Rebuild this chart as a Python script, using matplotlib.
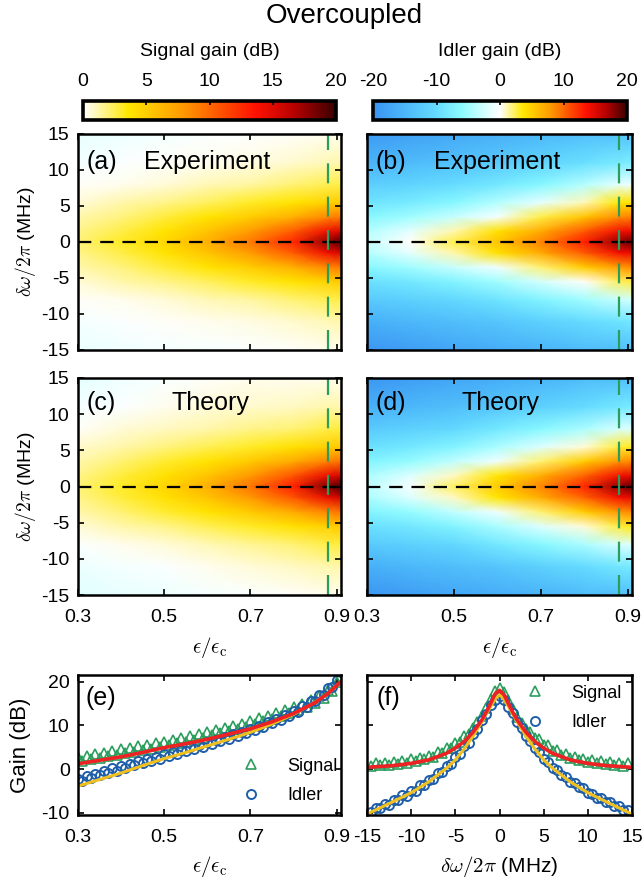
import numpy as np
import matplotlib
matplotlib.use('Agg')
import matplotlib.pyplot as plt
from matplotlib.colors import LinearSegmentedColormap, Normalize
from matplotlib.cm import ScalarMappable

plt.rcParams['font.family'] = ['Liberation Sans', 'DejaVu Sans']
plt.rcParams['mathtext.fontset'] = 'cm'
plt.rcParams['axes.unicode_minus'] = False

# ---------------- data ----------------
eps_grid = [0.30, 0.40, 0.50, 0.60, 0.70, 0.80, 0.88, 0.91]
dw_grid = [-15, -11, -8, -5.5, -3.5, -1.5, 0, 1.5, 3.5, 5.5, 8, 11, 15]

# rows follow dw_grid (bottom -> top), columns follow eps_grid
signal_exp = [
    [-1.2, -0.9, -0.6, -0.4, -0.2, 0.0, 0.2, 0.2],
    [-0.5, -0.3, 0.0, 0.2, 0.4, 0.7, 1.0, 1.1],
    [0.0, 0.3, 0.6, 1.0, 1.4, 1.9, 2.4, 2.6],
    [0.6, 1.1, 1.7, 2.3, 3.0, 3.9, 4.8, 5.1],
    [1.1, 1.8, 2.8, 3.8, 5.1, 6.7, 8.6, 9.2],
    [1.6, 2.6, 3.9, 5.5, 7.8, 10.6, 14.2, 15.2],
    [1.9, 3.0, 4.5, 6.6, 9.3, 12.8, 17.8, 19.5],
    [1.6, 2.6, 3.9, 5.5, 7.8, 10.6, 14.2, 15.2],
    [1.1, 1.8, 2.8, 3.8, 5.1, 6.7, 8.6, 9.2],
    [0.6, 1.1, 1.7, 2.3, 3.0, 3.9, 4.8, 5.1],
    [0.0, 0.3, 0.6, 1.0, 1.4, 1.9, 2.4, 2.6],
    [-0.5, -0.3, 0.0, 0.2, 0.4, 0.7, 1.0, 1.1],
    [-1.3, -1.0, -0.6, -0.3, -0.1, 0.1, 0.3, 0.3],
]
idler_exp = [
    [-19.5, -18.5, -17.5, -16.5, -15.5, -14.5, -14.0, -14.0],
    [-16.0, -15.0, -14.0, -13.0, -11.5, -10.0, -9.0, -8.5],
    [-12.5, -11.5, -10.5, -9.0, -7.0, -5.0, -3.0, -2.5],
    [-9.5, -8.5, -7.0, -5.0, -2.5, 0.0, 2.2, 2.6],
    [-6.5, -5.0, -3.0, -0.8, 2.0, 5.0, 7.8, 8.3],
    [-4.0, -1.5, 1.2, 4.0, 7.0, 10.5, 14.0, 14.5],
    [-3.0, 0.0, 2.5, 5.5, 8.8, 13.0, 17.5, 19.0],
    [-4.0, -1.5, 1.2, 4.0, 7.0, 10.5, 14.0, 14.5],
    [-6.5, -5.0, -3.0, -0.5, 2.5, 5.5, 8.5, 9.0],
    [-9.0, -8.0, -6.5, -4.0, -1.5, 1.0, 3.5, 4.0],
    [-12.0, -11.0, -10.0, -8.5, -6.5, -4.0, -1.5, -1.0],
    [-15.5, -14.5, -13.5, -12.5, -11.0, -9.5, -8.0, -7.5],
    [-19.0, -18.0, -17.0, -16.0, -15.0, -14.0, -13.5, -13.5],
]
signal_th = [
    [-1.8, -1.4, -1.0, -0.6, -0.3, 0.0, 0.2, 0.3],
    [-1.0, -0.6, -0.2, 0.2, 0.5, 0.8, 1.1, 1.2],
    [-0.2, 0.2, 0.6, 1.0, 1.5, 2.0, 2.5, 2.7],
    [0.6, 1.1, 1.7, 2.4, 3.1, 4.0, 4.9, 5.2],
    [1.2, 1.9, 2.9, 3.9, 5.2, 6.9, 8.8, 9.4],
    [1.7, 2.7, 4.0, 5.6, 7.9, 10.8, 14.5, 15.5],
    [2.0, 3.1, 4.6, 6.7, 9.4, 13.0, 18.2, 19.8],
    [1.7, 2.7, 4.0, 5.6, 7.9, 10.8, 14.5, 15.5],
    [1.2, 1.9, 2.9, 3.9, 5.2, 6.9, 8.8, 9.4],
    [0.7, 1.2, 1.8, 2.4, 3.1, 4.0, 4.9, 5.2],
    [0.1, 0.5, 0.9, 1.2, 1.6, 2.0, 2.5, 2.7],
    [-0.6, -0.2, 0.2, 0.5, 0.7, 0.9, 1.1, 1.2],
    [-1.5, -0.9, -0.4, 0.0, 0.2, 0.3, 0.3, 0.3],
]
idler_th = [
    [-19.5, -18.5, -17.5, -16.5, -15.5, -14.5, -14.0, -14.0],
    [-16.0, -15.0, -14.0, -13.0, -11.5, -10.0, -8.5, -8.0],
    [-12.5, -11.5, -10.5, -8.5, -6.5, -4.5, -2.3, -2.0],
    [-9.5, -8.5, -7.0, -4.5, -2.0, 0.5, 2.8, 3.2],
    [-7.0, -5.5, -3.3, -0.8, 2.0, 5.0, 8.0, 8.5],
    [-4.5, -2.0, 0.8, 3.7, 6.8, 10.3, 14.0, 14.8],
    [-3.5, -0.5, 2.3, 5.3, 8.6, 12.8, 17.5, 19.2],
    [-4.5, -2.0, 0.8, 3.7, 6.8, 10.3, 14.0, 14.8],
    [-7.0, -5.5, -3.3, -0.8, 2.0, 5.0, 8.0, 8.5],
    [-9.5, -8.5, -7.0, -4.5, -2.0, 0.5, 2.8, 3.2],
    [-12.5, -11.5, -10.5, -8.5, -6.5, -4.5, -2.3, -2.0],
    [-16.0, -15.0, -14.0, -13.0, -11.5, -10.0, -8.5, -8.0],
    [-19.5, -18.5, -17.5, -16.5, -15.5, -14.5, -14.0, -14.0],
]

eps_cut = 0.88

# panel (e): gain at dw = 0 vs eps
eps_pts = [0.30, 0.31, 0.32, 0.33, 0.34, 0.35, 0.36, 0.37, 0.38, 0.39,
           0.40, 0.41, 0.42, 0.43, 0.44, 0.45, 0.46, 0.47, 0.48, 0.49,
           0.50, 0.51, 0.52, 0.53, 0.54, 0.55, 0.56, 0.57, 0.58, 0.59,
           0.60, 0.61, 0.62, 0.63, 0.64, 0.65, 0.66, 0.67, 0.68, 0.69,
           0.70, 0.71, 0.72, 0.73, 0.74, 0.75, 0.76, 0.77, 0.78, 0.79,
           0.80, 0.81, 0.82, 0.83, 0.84, 0.85, 0.86, 0.87, 0.88, 0.89, 0.90]
sig_e = [2.8, 1.9, 3.1, 2.2, 3.4, 2.6, 3.7, 2.9, 4.1, 3.3,
         4.5, 3.7, 4.8, 4.0, 5.2, 4.4, 5.6, 4.7, 5.9, 5.1,
         6.3, 5.5, 6.7, 5.9, 7.1, 6.3, 7.5, 6.7, 8.0, 7.2,
         8.5, 7.7, 8.9, 8.2, 9.4, 8.7, 9.9, 9.2, 10.4, 9.7,
         11.0, 10.3, 11.6, 10.9, 12.2, 11.5, 12.8, 12.1, 13.5, 12.8,
         14.2, 13.5, 14.9, 14.3, 15.7, 15.2, 16.7, 16.3, 18.0, 17.9, 20.0]
idl_e = [-2.25, -2.65, -1.65, -2.05, -1.05, -1.45, -0.45, -0.85, 0.15, -0.35,
         0.65, 0.25, 1.25, 0.85, 1.75, 1.35, 2.35, 1.85, 2.85, 2.35,
         3.35, 2.95, 3.85, 3.45, 4.45, 4.05, 4.95, 4.55, 5.55, 5.15,
         6.15, 5.75, 6.75, 6.35, 7.35, 6.95, 7.95, 7.55, 8.55, 8.15,
         9.15, 8.85, 9.95, 9.65, 10.75, 10.45, 11.55, 11.25, 12.35, 12.15,
         13.35, 13.15, 14.35, 14.15, 15.45, 15.45, 16.85, 16.95, 18.55, 18.75, 20.35]
eps_fit = [0.30, 0.35, 0.40, 0.45, 0.50, 0.55, 0.60, 0.65, 0.70, 0.75, 0.80, 0.85, 0.88, 0.91]
sig_fit_e = [1.2, 2.0, 2.8, 3.8, 4.9, 5.8, 6.8, 8.0, 9.2, 10.8, 12.7, 15.2, 17.3, 20.0]
idl_fit_e = [-3.9, -2.4, -0.9, 0.8, 2.4, 3.8, 5.3, 6.8, 8.4, 10.3, 12.5, 15.3, 17.3, 20.0]

# panel (f): gain vs detuning at eps = eps_cut
dw_pts = [-14.5, -14.0, -13.5, -13.0, -12.5, -12.0, -11.5, -11.0, -10.5, -10.0,
          -9.5, -9.0, -8.5, -8.0, -7.5, -7.0, -6.5, -6.0, -5.5, -5.0,
          -4.5, -4.0, -3.5, -3.0, -2.5, -2.0, -1.5, -1.0, -0.5, 0.0,
          0.5, 1.0, 1.5, 2.0, 2.5, 3.0, 3.5, 4.0, 4.5, 5.0,
          5.5, 6.0, 6.5, 7.0, 7.5, 8.0, 8.5, 9.0, 9.5, 10.0,
          10.5, 11.0, 11.5, 12.0, 12.5, 13.0, 13.5, 14.0, 14.5]
sig_f = [0.75, 1.4, 0.85, 1.5, 1.0, 1.7, 1.2, 1.9, 1.45, 2.2,
         1.8, 2.6, 2.2, 3.1, 2.8, 3.8, 3.7, 4.8, 4.8, 6.0,
         6.2, 7.6, 8.0, 9.4, 10.7, 12.2, 14.0, 16.0, 17.8, 18.5,
         17.6, 15.8, 13.8, 12.0, 10.5, 9.2, 8.5, 7.0, 6.8, 5.4,
         5.4, 4.2, 4.3, 3.2, 3.4, 2.5, 2.8, 2.0, 2.4, 1.6,
         2.05, 1.3, 1.8, 1.1, 1.6, 0.9, 1.45, 0.8, 1.35]
idl_f = [-9.9, -8.8, -9.0, -7.9, -8.1, -7.0, -7.1, -6.0, -6.1, -4.9,
         -4.9, -3.7, -3.7, -2.4, -2.3, -0.9, -0.7, 0.8, 1.2, 2.8,
         3.4, 5.3, 6.0, 8.0, 9.1, 11.2, 12.6, 14.6, 15.8, 16.8,
         15.9, 14.3, 12.9, 10.8, 9.5, 7.6, 6.5, 4.8, 3.9, 2.3,
         1.7, 0.3, -0.2, -1.4, -1.8, -2.9, -3.2, -4.2, -4.4, -5.4,
         -5.6, -6.5, -6.6, -7.5, -7.6, -8.4, -8.5, -9.3, -9.4]
dw_fit = [-15, -12, -10, -8, -6, -5, -4, -3, -2, -1.5, -1, -0.5, 0,
          0.5, 1, 1.5, 2, 3, 4, 5, 6, 8, 10, 12, 15]
sig_fit_f = [0.4, 0.8, 1.3, 2.1, 3.6, 4.8, 6.3, 8.4, 11.2, 13.0, 15.0, 17.2, 18.0,
             17.0, 15.0, 13.0, 11.2, 8.4, 6.3, 4.8, 3.6, 2.1, 1.3, 0.8, 0.4]
idl_fit_f = [-10.3, -7.4, -5.4, -2.9, 0.2, 2.1, 4.6, 7.5, 10.8, 12.6, 14.3, 16.0, 17.0,
             16.0, 14.3, 12.6, 10.8, 7.5, 4.6, 2.1, 0.2, -2.9, -5.4, -7.4, -10.3]

sig_ticks = [0, 5, 10, 15, 20]
idl_ticks = [-20, -10, 0, 10, 20]

# ---------------- styles ----------------
cmap = LinearSegmentedColormap.from_list('gain', [
    (0.000, '#3a94f2'),
    (0.125, '#4cb8fa'),
    (0.250, '#66dcff'),
    (0.350, '#8cfcff'),
    (0.450, '#dcffff'),
    (0.500, '#ffffff'),
    (0.590, '#ffe800'),
    (0.700, '#ff9800'),
    (0.840, '#ff1200'),
    (0.925, '#b00000'),
    (1.000, '#3c0000'),
])
sig_cmap = LinearSegmentedColormap.from_list('sig', cmap(np.linspace(0.5, 1.0, 256)))

GREEN = '#2b9d5c'
BLUE = '#1f5ea8'
RED = '#ee2222'
YELLOW = '#f0c020'
W, H = 644, 886
TICK = 14
PANEL = 18

fig = plt.figure(figsize=(W / 100, H / 100), dpi=100)


def box(l, t, r, b):
    return [l / W, 1 - b / H, (r - l) / W, (b - t) / H]


ax_a = fig.add_axes(box(78, 134, 341, 350))
ax_b = fig.add_axes(box(367, 134, 632, 350))
ax_c = fig.add_axes(box(78, 378, 341, 595))
ax_d = fig.add_axes(box(367, 378, 632, 595))
ax_e = fig.add_axes(box(78, 675, 341, 815))
ax_f = fig.add_axes(box(367, 675, 632, 815))
cax1 = fig.add_axes(box(83, 101, 336, 120))
cax2 = fig.add_axes(box(373, 101, 627, 120))


def style(ax):
    ax.tick_params(direction='in', top=True, right=True, length=4, width=1.2,
                   labelsize=TICK)
    ax.tick_params(axis='x', pad=10)
    ax.tick_params(axis='y', pad=6)
    for s in ax.spines.values():
        s.set_linewidth(1.8)


def place_xlabel(ax, y):
    ax.xaxis.set_label_coords(0.5, y)
    ax.xaxis.label.set_verticalalignment('center')


def place_ylabel(ax, x):
    ax.yaxis.set_label_coords(x, 0.5)
    ax.yaxis.label.set_verticalalignment('center')


E, D = np.meshgrid(eps_grid, dw_grid)
mlabel = r'$\delta\omega/2\pi$ (MHz)'
xlab = r'$\epsilon/\epsilon_{\mathrm{c}}$'

maps = [(ax_a, signal_exp, '(a)', 'Experiment', 0.251),
        (ax_b, idler_exp, '(b)', 'Experiment', 0.254),
        (ax_c, signal_th, '(c)', 'Theory', 0.356),
        (ax_d, idler_th, '(d)', 'Theory', 0.355)]
for ax, Z, lab, name, xn in maps:
    ax.pcolormesh(E, D, np.array(Z), shading='gouraud', cmap=cmap,
                  vmin=-20, vmax=20, rasterized=True)
    ax.axhline(0, color='black', lw=1.6, ls=(0, (6, 4)))
    ax.axvline(eps_cut, color=GREEN, lw=1.6, ls=(0, (9, 6)))
    ax.set_xlim(0.3, 0.91)
    ax.set_ylim(-15, 15)
    ax.set_xticks([0.3, 0.5, 0.7, 0.9])
    ax.set_yticks([-15, -10, -5, 0, 5, 10, 15])
    style(ax)
    ytxt = 0.872 if name == 'Experiment' else 0.883
    ax.text(0.033, ytxt, lab, transform=ax.transAxes, fontsize=PANEL,
            ha='left', va='center')
    ax.text(xn, ytxt, name, transform=ax.transAxes, fontsize=PANEL,
            ha='left', va='center')

for ax in (ax_a, ax_b):
    ax.tick_params(labelbottom=False)
for ax in (ax_b, ax_d):
    ax.tick_params(labelleft=False)
for ax in (ax_a, ax_c):
    ax.set_ylabel(mlabel, fontsize=14)
    place_ylabel(ax, -0.2)
for ax in (ax_c, ax_d):
    ax.set_xticklabels(['0.3', '0.5', '0.7', '0.9'])
    ax.set_xlabel(xlab, fontsize=15)
    place_xlabel(ax, -0.244)

# panel (e)
ax_e.plot(eps_pts, sig_e, ls='none', marker='^', ms=6.5, mfc='none', mec=GREEN,
          mew=1.2, label='Signal')
ax_e.plot(eps_pts, idl_e, ls='none', marker='o', ms=6.5, mfc='none', mec=BLUE,
          mew=1.4, label='Idler')
ax_e.plot(eps_fit, idl_fit_e, color=YELLOW, lw=2.2)
ax_e.plot(eps_fit, sig_fit_e, color=RED, lw=2.6)
ax_e.set_xlim(0.3, 0.91)
ax_e.set_ylim(-10.5, 21.5)
ax_e.set_xticks([0.3, 0.5, 0.7, 0.9])
ax_e.set_xticklabels(['0.3', '0.5', '0.7', '0.9'])
ax_e.set_yticks([-10, 0, 10, 20])
style(ax_e)
ax_e.set_ylabel('Gain (dB)', fontsize=16)
place_ylabel(ax_e, -0.22)
ax_e.set_xlabel(xlab, fontsize=15)
place_xlabel(ax_e, -0.37)
ax_e.text(0.027, 0.836, '(e)', transform=ax_e.transAxes, fontsize=PANEL,
          ha='left', va='center')
ax_e.legend(loc='center left', bbox_to_anchor=(0.625, 0.243), frameon=False,
            fontsize=13, handlelength=1.0, handletextpad=1.5,
            labelspacing=0.7, borderpad=0, borderaxespad=0)

# panel (f)
ax_f.plot(dw_pts, sig_f, ls='none', marker='^', ms=6.5, mfc='none', mec=GREEN,
          mew=1.2, label='Signal')
ax_f.plot(dw_pts, idl_f, ls='none', marker='o', ms=6.5, mfc='none', mec=BLUE,
          mew=1.4, label='Idler')
ax_f.plot(dw_fit, idl_fit_f, color=YELLOW, lw=2.2)
ax_f.plot(dw_fit, sig_fit_f, color=RED, lw=2.6)
ax_f.set_xlim(-15, 15)
ax_f.set_ylim(-10.5, 21.5)
ax_f.set_xticks([-15, -10, -5, 0, 5, 10, 15])
ax_f.set_yticks([-10, 0, 10, 20])
style(ax_f)
ax_f.tick_params(labelleft=False)
ax_f.set_xlabel(mlabel, fontsize=15)
place_xlabel(ax_f, -0.37)
ax_f.text(0.036, 0.836, '(f)', transform=ax_f.transAxes, fontsize=PANEL,
          ha='left', va='center')
ax_f.legend(loc='center left', bbox_to_anchor=(0.6, 0.765), frameon=False,
            fontsize=13, handlelength=1.0, handletextpad=1.5,
            labelspacing=0.7, borderpad=0, borderaxespad=0)

# colorbars
for cax, cm_, lo, ticks in ((cax1, sig_cmap, 0, sig_ticks),
                            (cax2, cmap, -20, idl_ticks)):
    sm = ScalarMappable(norm=Normalize(lo, 20), cmap=cm_)
    cb = fig.colorbar(sm, cax=cax, orientation='horizontal', ticks=ticks)
    cax.xaxis.set_ticks_position('top')
    cax.tick_params(direction='in', length=3, width=1.2, labelsize=TICK, pad=8)
    cb.outline.set_linewidth(2.6)

fig.text((83 + 336) / 2 / W, 1 - 51 / H, 'Signal gain (dB)', fontsize=14,
         ha='center', va='center')
fig.text((373 + 627) / 2 / W, 1 - 51 / H, 'Idler gain (dB)', fontsize=14,
         ha='center', va='center')
fig.text(0.535, 1 - 16 / H, 'Overcoupled', fontsize=20, ha='center', va='center')

fig.savefig('out.png', dpi=100)
